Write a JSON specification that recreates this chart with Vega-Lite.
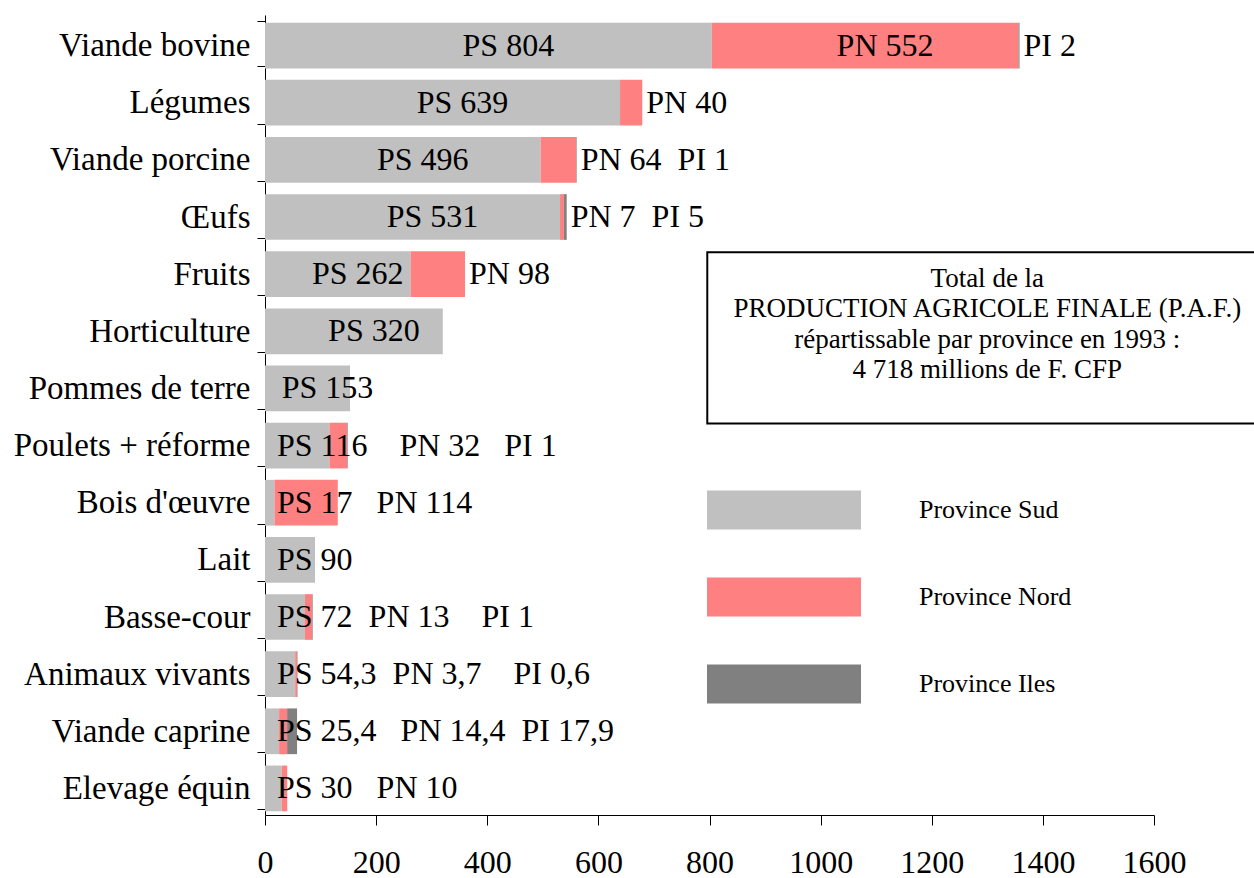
{
  "$schema": "https://vega.github.io/schema/vega-lite/v6.json",
  "autosize": {"type": "none"},
  "padding": {"left": 265, "top": 15, "right": 100, "bottom": 63},
  "width": 889,
  "height": 800,
  "background": "white",
  "config": {
    "view": {"stroke": null},
    "font": "Liberation Serif",
    "axis": {"labelFont": "Liberation Serif", "labelColor": "black", "domainColor": "black", "tickColor": "black", "grid": false, "title": null}
  },
  "datasets": {
    "rows": [
      {"cat": "Viande bovine", "Province Sud": 804, "Province Nord": 552, "Province Iles": 2, "ps": "PS 804", "pn": "PN 552", "tail": "PI 2", "full": ""},
      {"cat": "Légumes", "Province Sud": 639, "Province Nord": 40, "Province Iles": 0, "ps": "PS 639", "pn": "", "tail": "PN 40", "full": ""},
      {"cat": "Viande porcine", "Province Sud": 496, "Province Nord": 64, "Province Iles": 1, "ps": "PS 496", "pn": "", "tail": "PN 64\u00a0\u00a0PI 1", "full": ""},
      {"cat": "Œufs", "Province Sud": 531, "Province Nord": 7, "Province Iles": 5, "ps": "PS 531", "pn": "", "tail": "PN 7\u00a0\u00a0PI 5", "full": ""},
      {"cat": "Fruits", "Province Sud": 262, "Province Nord": 98, "Province Iles": 0, "ps": "PS 262", "pn": "", "tail": "PN 98", "full": ""},
      {"cat": "Horticulture", "Province Sud": 320, "Province Nord": 0, "Province Iles": 0, "ps": "PS 320", "pn": "", "tail": "", "full": ""},
      {"cat": "Pommes de terre", "Province Sud": 153, "Province Nord": 0, "Province Iles": 0, "ps": "PS 153", "pn": "", "tail": "", "full": ""},
      {"cat": "Poulets + réforme", "Province Sud": 116, "Province Nord": 32, "Province Iles": 1, "ps": "", "pn": "", "tail": "", "full": "PS 116\u00a0\u00a0\u00a0\u00a0PN 32\u00a0\u00a0\u00a0PI 1"},
      {"cat": "Bois d'œuvre", "Province Sud": 17, "Province Nord": 114, "Province Iles": 0, "ps": "", "pn": "", "tail": "", "full": "PS 17\u00a0\u00a0\u00a0PN 114"},
      {"cat": "Lait", "Province Sud": 90, "Province Nord": 0, "Province Iles": 0, "ps": "", "pn": "", "tail": "", "full": "PS 90"},
      {"cat": "Basse-cour", "Province Sud": 72, "Province Nord": 13, "Province Iles": 1, "ps": "", "pn": "", "tail": "", "full": "PS 72\u00a0\u00a0PN 13\u00a0\u00a0\u00a0\u00a0PI 1"},
      {"cat": "Animaux vivants", "Province Sud": 54.3, "Province Nord": 3.7, "Province Iles": 0.6, "ps": "", "pn": "", "tail": "", "full": "PS 54,3\u00a0\u00a0PN 3,7\u00a0\u00a0\u00a0\u00a0PI 0,6"},
      {"cat": "Viande caprine", "Province Sud": 25.4, "Province Nord": 14.4, "Province Iles": 17.9, "ps": "", "pn": "", "tail": "", "full": "PS 25,4\u00a0\u00a0\u00a0PN 14,4\u00a0\u00a0PI 17,9"},
      {"cat": "Elevage équin", "Province Sud": 30, "Province Nord": 10, "Province Iles": 0, "ps": "", "pn": "", "tail": "", "full": "PS 30\u00a0\u00a0\u00a0PN 10"}
    ],
    "note": [
      {"text": "Total de la\nPRODUCTION AGRICOLE FINALE (P.A.F.)\nrépartissable par province en 1993 :\n4 718 millions de F. CFP"}
    ]
  },
  "data": {"name": "rows"},
  "encoding": {
    "y": {
      "field": "cat",
      "type": "nominal",
      "scale": {
        "domain": ["Viande bovine", "Légumes", "Viande porcine", "Œufs", "Fruits", "Horticulture", "Pommes de terre", "Poulets + réforme", "Bois d'œuvre", "Lait", "Basse-cour", "Animaux vivants", "Viande caprine", "Elevage équin"],
        "paddingInner": 0.2,
        "paddingOuter": 0.1
      },
      "axis": {"tickBand": "extent", "tickSize": 8, "labelPadding": 7, "labelFontSize": 33, "labelLimit": 400, "labelOffset": 2, "domain": true}
    }
  },
  "layer": [
    {
      "transform": [
        {"fold": ["Province Sud", "Province Nord", "Province Iles"], "as": ["province", "value"]},
        {"calculate": "indexof(['Province Sud','Province Nord','Province Iles'], datum.province)", "as": "ord"}
      ],
      "mark": {"type": "bar", "yOffset": 2},
      "encoding": {
        "x": {
          "field": "value",
          "type": "quantitative",
          "stack": "zero",
          "scale": {"domain": [0, 1600], "nice": false, "zero": true},
          "axis": {"values": [0, 200, 400, 600, 800, 1000, 1200, 1400, 1600], "format": "d", "tickSize": 10, "labelPadding": 22, "labelFontSize": 32, "labelFlush": false}
        },
        "color": {
          "field": "province",
          "type": "nominal",
          "scale": {"domain": ["Province Sud", "Province Nord", "Province Iles"], "range": ["#C0C0C0", "#FF8080", "#808080"]},
          "legend": {
            "orient": "none",
            "legendX": 499,
            "legendY": 475,
            "title": null,
            "direction": "vertical",
            "symbolType": "M-3.85,-0.975L3.85,-0.975L3.85,0.975L-3.85,0.975Z",
            "symbolSize": 1600,
            "symbolStrokeWidth": 0,
            "symbolOpacity": 1,
            "labelFontSize": 26,
            "labelFont": "Liberation Serif",
            "labelColor": "black",
            "labelOffset": 115,
            "rowPadding": 47,
            "padding": 0
          }
        },
        "order": {"field": "ord", "type": "quantitative"}
      }
    },
    {
      "transform": [
        {"filter": "datum.ps != ''"},
        {"calculate": "datum['Province Sud'] / 2", "as": "xm"}
      ],
      "mark": {"type": "text", "dx": 20, "dy": 2, "fontSize": 32, "font": "Liberation Serif", "align": "center", "baseline": "middle", "color": "black"},
      "encoding": {
        "x": {"field": "xm", "type": "quantitative", "scale": {"domain": [0, 1600]}},
        "text": {"field": "ps"}
      }
    },
    {
      "transform": [
        {"filter": "datum.pn != ''"},
        {"calculate": "datum['Province Sud'] + datum['Province Nord'] / 2", "as": "xm"}
      ],
      "mark": {"type": "text", "dx": 20, "dy": 2, "fontSize": 32, "font": "Liberation Serif", "align": "center", "baseline": "middle", "color": "black"},
      "encoding": {
        "x": {"field": "xm", "type": "quantitative", "scale": {"domain": [0, 1600]}},
        "text": {"field": "pn"}
      }
    },
    {
      "transform": [
        {"filter": "datum.tail != ''"},
        {"calculate": "datum['Province Sud'] + datum['Province Nord'] + datum['Province Iles']", "as": "xe"}
      ],
      "mark": {"type": "text", "dx": 4, "dy": 2, "fontSize": 32, "font": "Liberation Serif", "align": "left", "baseline": "middle", "color": "black"},
      "encoding": {
        "x": {"field": "xe", "type": "quantitative", "scale": {"domain": [0, 1600]}},
        "text": {"field": "tail"}
      }
    },
    {
      "transform": [
        {"filter": "datum.full != ''"}
      ],
      "mark": {"type": "text", "dx": 12, "dy": 2, "fontSize": 32, "font": "Liberation Serif", "align": "left", "baseline": "middle", "color": "black"},
      "encoding": {
        "x": {"datum": 0, "type": "quantitative", "scale": {"domain": [0, 1600]}},
        "text": {"field": "full"}
      }
    },
    {
      "data": {"name": "note"},
      "mark": {"type": "rect", "fill": "white", "stroke": "black", "strokeWidth": 2, "yOffset": -20, "y2Offset": -20},
      "encoding": {
        "x": {"datum": 796, "type": "quantitative", "scale": {"domain": [0, 1600]}},
        "x2": {"datum": 1830},
        "y": {"datum": "Fruits", "type": "nominal"},
        "y2": {"datum": "Poulets + réforme"}
      }
    },
    {
      "data": {"name": "note"},
      "mark": {"type": "text", "fontSize": 27, "font": "Liberation Serif", "lineBreak": "\n", "lineHeight": 30.3, "align": "center", "baseline": "alphabetic", "dy": 15, "color": "black"},
      "encoding": {
        "x": {"datum": 1300, "type": "quantitative", "scale": {"domain": [0, 1600]}},
        "y": {"datum": "Fruits", "type": "nominal"},
        "text": {"field": "text"}
      }
    }
  ]
}
